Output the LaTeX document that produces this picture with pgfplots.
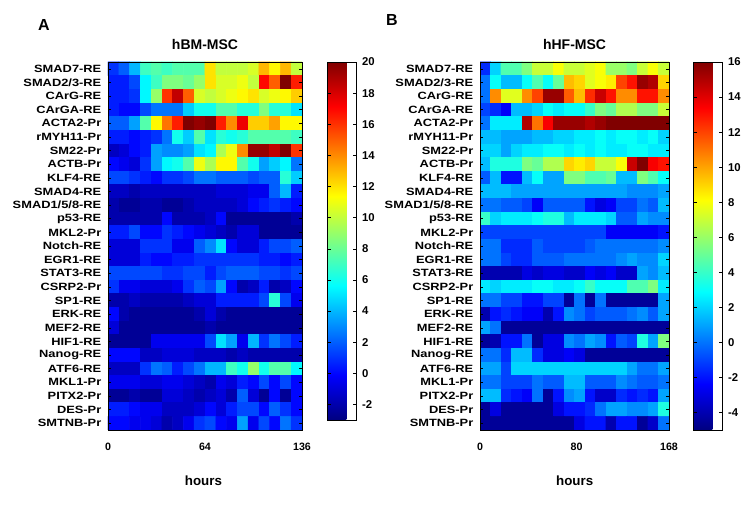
\documentclass[border=0pt]{standalone}
\usepackage{fontspec}
\setmainfont{Liberation Sans}
\newfontfamily\lab[FakeStretch=1.22]{Liberation Sans}
\usepackage{pgfplots}
\pgfplotsset{compat=1.18}

% 1 px of the reference = 0.75pt
\pgfplotsset{
  hm/.style={
    scale only axis, width=145.5pt, height=276pt,
    anchor=south west,
    xmin=-0.5, xmax=17.5, ymin=-0.5, ymax=26.5, y dir=reverse,
    enlargelimits=false, axis on top,
    colormap/jet,
    ytick={0,...,26},
    yticklabels={SMAD7-RE,SMAD2/3-RE,CArG-RE,CArGA-RE,ACTA2-Pr,rMYH11-Pr,SM22-Pr,ACTB-Pr,KLF4-RE,SMAD4-RE,SMAD1/5/8-RE,p53-RE,MKL2-Pr,Notch-RE,EGR1-RE,STAT3-RE,CSRP2-Pr,SP1-RE,ERK-RE,MEF2-RE,HIF1-RE,Nanog-RE,ATF6-RE,MKL1-Pr,PITX2-Pr,DES-Pr,SMTNB-Pr},
    yticklabel style={font=\lab\bfseries\fontsize{7.9}{8}\selectfont, xshift=-1.5pt},
    xticklabel style={font=\bfseries\fontsize{8}{8}\selectfont, yshift=-6pt},
    ytick pos=both, yticklabel pos=left,
    major tick length=2.5pt, tick align=inside,
    tick style={black, line width=0.4pt},
    xtick style={draw=none},
    axis line style={line width=0.5pt},
    colorbar,
    colorbar style={
      at={(parent axis.north east)}, anchor=north west,
      scale only axis, width=21.5pt,
      tick align=inside, major tick length=2.5pt,
      ytick pos=both, yticklabel pos=right,
      yticklabel style={font=\bfseries\fontsize{8.5}{9}\selectfont, xshift=1pt},
    },
  },
  cells/.style={matrix plot*, mesh/cols=18, point meta=explicit},
}

\begin{document}
\begin{tikzpicture}
\path[use as bounding box] (0,0) rectangle (562.5pt,378.75pt);

% ---------------- A: hBM-MSC ----------------
\begin{axis}[hm, at={(81pt,56.25pt)},
    point meta min=-3, point meta max=20,
    xtick={-0.5,8.5,17.5}, xticklabels={0,64,136},
    colorbar style={xshift=10.5pt, height=268.5pt,
      ytick={-2,0,...,20}, yticklabels={-2,0,2,4,6,8,10,12,14,16,18,20}}]
\addplot[cells] table[meta=c, row sep=\\] {
x y c\\
0 0 1\\ 1 0 2\\ 2 0 4\\ 3 0 7\\ 4 0 7.5\\ 5 0 7\\ 6 0 7.5\\ 7 0 7.5\\ 8 0 7.5\\ 9 0 12\\ 10 0 10\\ 11 0 10\\ 12 0 10\\ 13 0 10.5\\ 14 0 13\\ 15 0 11.5\\ 16 0 13\\ 17 0 10\\
0 1 0.5\\ 1 1 0.5\\ 2 1 1.5\\ 3 1 5.5\\ 4 1 7\\ 5 1 8.5\\ 6 1 8.5\\ 7 1 8\\ 8 1 9\\ 9 1 12\\ 10 1 10.5\\ 11 1 10.5\\ 12 1 11\\ 13 1 10\\ 14 1 17\\ 15 1 15\\ 16 1 20\\ 17 1 16.5\\
0 2 0.5\\ 1 2 0.5\\ 2 2 1\\ 3 2 5.5\\ 4 2 9\\ 5 2 16\\ 6 2 18.5\\ 7 2 15\\ 8 2 10.5\\ 9 2 10\\ 10 2 10.5\\ 11 2 11\\ 12 2 11.5\\ 13 2 12\\ 14 2 10.5\\ 15 2 11\\ 16 2 11.5\\ 17 2 12.5\\
0 3 0.5\\ 1 3 0\\ 2 3 0\\ 3 3 1.5\\ 4 3 2.5\\ 5 3 2.5\\ 6 3 2.5\\ 7 3 4.5\\ 8 3 6\\ 9 3 6\\ 10 3 7.5\\ 11 3 7.5\\ 12 3 6.5\\ 13 3 6.5\\ 14 3 8.5\\ 15 3 6.5\\ 16 3 6.5\\ 17 3 5\\
0 4 2\\ 1 4 2\\ 2 4 3.5\\ 3 4 7.5\\ 4 4 11.5\\ 5 4 14.5\\ 6 4 16.5\\ 7 4 20\\ 8 4 19.5\\ 9 4 20\\ 10 4 16.5\\ 11 4 14\\ 12 4 17.5\\ 13 4 12.5\\ 14 4 12.5\\ 15 4 13.5\\ 16 4 11.5\\ 17 4 11.5\\
0 5 0.5\\ 1 5 0.5\\ 2 5 0\\ 3 5 0.5\\ 4 5 1\\ 5 5 2.5\\ 6 5 6\\ 7 5 4.5\\ 8 5 7.5\\ 9 5 5\\ 10 5 6.5\\ 11 5 6\\ 12 5 6.5\\ 13 5 7.5\\ 14 5 7.5\\ 15 5 7.5\\ 16 5 7.5\\ 17 5 7\\
0 6 -1.5\\ 1 6 -1\\ 2 6 0\\ 3 6 0.5\\ 4 6 3.5\\ 5 6 3\\ 6 6 3\\ 7 6 3.5\\ 8 6 5\\ 9 6 5.5\\ 10 6 9.5\\ 11 6 11\\ 12 6 14\\ 13 6 19.5\\ 14 6 19.5\\ 15 6 18.5\\ 16 6 20\\ 17 6 16\\
0 7 0\\ 1 7 -0.5\\ 2 7 -1\\ 3 7 1\\ 4 7 3.5\\ 5 7 5.5\\ 6 7 6\\ 7 7 7.5\\ 8 7 11\\ 9 7 9.5\\ 10 7 11.5\\ 11 7 11.5\\ 12 7 7.5\\ 13 7 6\\ 14 7 3.5\\ 15 7 4.5\\ 16 7 5.5\\ 17 7 2.5\\
0 8 1.5\\ 1 8 1.5\\ 2 8 1\\ 3 8 0.5\\ 4 8 0\\ 5 8 1\\ 6 8 1\\ 7 8 1.5\\ 8 8 2.5\\ 9 8 2.5\\ 10 8 2\\ 11 8 2\\ 12 8 2\\ 13 8 1.5\\ 14 8 2\\ 15 8 2\\ 16 8 6.5\\ 17 8 4.5\\
0 9 -1.5\\ 1 9 -1.5\\ 2 9 -2\\ 3 9 -1.5\\ 4 9 -1.5\\ 5 9 -1.5\\ 6 9 -1.5\\ 7 9 -1.5\\ 8 9 -1.5\\ 9 9 -1.5\\ 10 9 -1\\ 11 9 -1\\ 12 9 -1\\ 13 9 -0.5\\ 14 9 -0.5\\ 15 9 2\\ 16 9 4\\ 17 9 0.5\\
0 10 -2\\ 1 10 -2.5\\ 2 10 -2.5\\ 3 10 -2\\ 4 10 -2\\ 5 10 -2.5\\ 6 10 -2.5\\ 7 10 -2\\ 8 10 -1.5\\ 9 10 -1.5\\ 10 10 -1.5\\ 11 10 -1.5\\ 12 10 -1\\ 13 10 0\\ 14 10 0.5\\ 15 10 1\\ 16 10 0.5\\ 17 10 0\\
0 11 -2\\ 1 11 -2\\ 2 11 -2\\ 3 11 -2\\ 4 11 -2\\ 5 11 0\\ 6 11 -2\\ 7 11 -2\\ 8 11 -2\\ 9 11 -1.5\\ 10 11 0\\ 11 11 -2.5\\ 12 11 -2.5\\ 13 11 -2.5\\ 14 11 -2.5\\ 15 11 -2.5\\ 16 11 -2.5\\ 17 11 -2\\
0 12 0.5\\ 1 12 0.5\\ 2 12 1.5\\ 3 12 0\\ 4 12 0\\ 5 12 1\\ 6 12 0.5\\ 7 12 0\\ 8 12 -0.5\\ 9 12 -1\\ 10 12 -1.5\\ 11 12 -2\\ 12 12 -1\\ 13 12 -1\\ 14 12 -2.5\\ 15 12 -2.5\\ 16 12 -2.5\\ 17 12 -2.5\\
0 13 -1\\ 1 13 -1\\ 2 13 -1\\ 3 13 1\\ 4 13 1\\ 5 13 1\\ 6 13 -0.5\\ 7 13 -0.5\\ 8 13 2\\ 9 13 3\\ 10 13 5\\ 11 13 0\\ 12 13 -1\\ 13 13 -1\\ 14 13 0.5\\ 15 13 1.5\\ 16 13 1.5\\ 17 13 2\\
0 14 -1\\ 1 14 -1\\ 2 14 -1\\ 3 14 0.5\\ 4 14 0\\ 5 14 0\\ 6 14 0.5\\ 7 14 0.5\\ 8 14 1\\ 9 14 1\\ 10 14 1\\ 11 14 1\\ 12 14 1\\ 13 14 1\\ 14 14 0.5\\ 15 14 0.5\\ 16 14 0\\ 17 14 0.5\\
0 15 1.5\\ 1 15 1.5\\ 2 15 1.5\\ 3 15 1.5\\ 4 15 1.5\\ 5 15 1\\ 6 15 1\\ 7 15 1.5\\ 8 15 1.5\\ 9 15 0.5\\ 10 15 1.5\\ 11 15 2\\ 12 15 2\\ 13 15 2\\ 14 15 1.5\\ 15 15 1.5\\ 16 15 1\\ 17 15 1.5\\
0 16 1\\ 1 16 -0.5\\ 2 16 -0.5\\ 3 16 -1\\ 4 16 -1\\ 5 16 -1\\ 6 16 -0.5\\ 7 16 1\\ 8 16 2\\ 9 16 1.5\\ 10 16 3.5\\ 11 16 0\\ 12 16 -2\\ 13 16 -1.5\\ 14 16 0.5\\ 15 16 -2\\ 16 16 -1.5\\ 17 16 0\\
0 17 -2\\ 1 17 -2\\ 2 17 -1.5\\ 3 17 -2\\ 4 17 -2\\ 5 17 -2\\ 6 17 -2\\ 7 17 -1.5\\ 8 17 -1\\ 9 17 -1\\ 10 17 0.5\\ 11 17 0.5\\ 12 17 0.5\\ 13 17 0.5\\ 14 17 1.5\\ 15 17 6.5\\ 16 17 1.5\\ 17 17 -0.5\\
0 18 0\\ 1 18 -2\\ 2 18 -2.5\\ 3 18 -2.5\\ 4 18 -2.5\\ 5 18 -2.5\\ 6 18 -2.5\\ 7 18 -2.5\\ 8 18 -2\\ 9 18 -1\\ 10 18 -2\\ 11 18 -2.5\\ 12 18 -2.5\\ 13 18 -2.5\\ 14 18 -2.5\\ 15 18 -2.5\\ 16 18 -2.5\\ 17 18 -2.5\\
0 19 -1\\ 1 19 -2.5\\ 2 19 -2.5\\ 3 19 -2.5\\ 4 19 -2.5\\ 5 19 -2.5\\ 6 19 -2.5\\ 7 19 -2.5\\ 8 19 -2.5\\ 9 19 -2\\ 10 19 -2.5\\ 11 19 -2.5\\ 12 19 -2.5\\ 13 19 -2.5\\ 14 19 -2.5\\ 15 19 -2.5\\ 16 19 -2.5\\ 17 19 -2.5\\
0 20 -2.5\\ 1 20 -2.5\\ 2 20 -2.5\\ 3 20 -2.5\\ 4 20 -0.5\\ 5 20 -0.5\\ 6 20 -0.5\\ 7 20 -0.5\\ 8 20 -0.5\\ 9 20 1.5\\ 10 20 5\\ 11 20 3.5\\ 12 20 -0.5\\ 13 20 4\\ 14 20 1\\ 15 20 2.5\\ 16 20 1.5\\ 17 20 0.5\\
0 21 0\\ 1 21 0\\ 2 21 0\\ 3 21 -1.5\\ 4 21 -1.5\\ 5 21 -1\\ 6 21 -1\\ 7 21 -1\\ 8 21 -1.5\\ 9 21 -1.5\\ 10 21 -1.5\\ 11 21 -2\\ 12 21 -1.5\\ 13 21 -2\\ 14 21 -2\\ 15 21 -2\\ 16 21 -2\\ 17 21 -2\\
0 22 -1.5\\ 1 22 -1.5\\ 2 22 -1.5\\ 3 22 1\\ 4 22 2.5\\ 5 22 2\\ 6 22 0.5\\ 7 22 1.5\\ 8 22 2.5\\ 9 22 4\\ 10 22 4\\ 11 22 7\\ 12 22 6\\ 13 22 9\\ 14 22 6\\ 15 22 7.5\\ 16 22 7.5\\ 17 22 5.5\\
0 23 -0.5\\ 1 23 -0.5\\ 2 23 -0.5\\ 3 23 -1\\ 4 23 -1\\ 5 23 -0.5\\ 6 23 -0.5\\ 7 23 -1\\ 8 23 -1.5\\ 9 23 -2\\ 10 23 -0.5\\ 11 23 -1\\ 12 23 0.5\\ 13 23 0\\ 14 23 1.5\\ 15 23 0\\ 16 23 1.5\\ 17 23 0\\
0 24 -2.5\\ 1 24 -2.5\\ 2 24 -2\\ 3 24 -2.5\\ 4 24 -2.5\\ 5 24 -1\\ 6 24 -1\\ 7 24 -1.5\\ 8 24 -2\\ 9 24 -1.5\\ 10 24 -1\\ 11 24 -2\\ 12 24 2\\ 13 24 -1\\ 14 24 -2.5\\ 15 24 0\\ 16 24 -2.5\\ 17 24 0\\
0 25 0.5\\ 1 25 0.5\\ 2 25 0\\ 3 25 -0.5\\ 4 25 -0.5\\ 5 25 -1.5\\ 6 25 -1.5\\ 7 25 -1.5\\ 8 25 -1\\ 9 25 0\\ 10 25 -1\\ 11 25 0.5\\ 12 25 1.5\\ 13 25 1.5\\ 14 25 0\\ 15 25 2\\ 16 25 1\\ 17 25 0\\
0 26 0\\ 1 26 0\\ 2 26 -0.5\\ 3 26 -0.5\\ 4 26 -1\\ 5 26 -2\\ 6 26 -1.5\\ 7 26 -0.5\\ 8 26 1\\ 9 26 1.5\\ 10 26 0\\ 11 26 -0.5\\ 12 26 3.5\\ 13 26 -0.5\\ 14 26 1.5\\ 15 26 0\\ 16 26 2.5\\ 17 26 1\\
};
\end{axis}

% ---------------- B: hHF-MSC ----------------
\begin{axis}[hm, at={(360pt,56.25pt)}, width=141.75pt,
    point meta min=-5, point meta max=16,
    xtick={-0.5,8.7,17.5}, xticklabels={0,80,168},
    colorbar style={xshift=9.75pt, height=276pt,
      ytick={-4,-2,...,16}, yticklabels={-4,-2,0,2,4,6,8,10,12,14,16}}]
\addplot[cells] table[meta=c, row sep=\\] {
x y c\\
0 0 -1.5\\ 1 0 2\\ 2 0 4.5\\ 3 0 4.5\\ 4 0 5.5\\ 5 0 7\\ 6 0 7\\ 7 0 8\\ 8 0 7\\ 9 0 7\\ 10 0 7.5\\ 11 0 8\\ 12 0 6\\ 13 0 6\\ 14 0 5.5\\ 15 0 7\\ 16 0 8\\ 17 0 7\\
0 1 0\\ 1 1 3\\ 2 1 1.5\\ 3 1 1.5\\ 4 1 3\\ 5 1 4.5\\ 6 1 3\\ 7 1 5\\ 8 1 9.5\\ 9 1 9\\ 10 1 7.5\\ 11 1 8\\ 12 1 8.5\\ 13 1 12\\ 14 1 13\\ 15 1 15.5\\ 16 1 15\\ 17 1 9\\
0 2 0\\ 1 2 10.5\\ 2 2 7.5\\ 3 2 7.5\\ 4 2 10.5\\ 5 2 12\\ 6 2 15.5\\ 7 2 15.5\\ 8 2 11.5\\ 9 2 9.5\\ 10 2 12.5\\ 11 2 14.5\\ 12 2 13\\ 13 2 10.5\\ 14 2 10.5\\ 15 2 13\\ 16 2 13\\ 17 2 10.5\\
0 3 -1\\ 1 3 -1.5\\ 2 3 -2.5\\ 3 3 1.5\\ 4 3 1.5\\ 5 3 2\\ 6 3 3\\ 7 3 2.5\\ 8 3 3\\ 9 3 3\\ 10 3 4\\ 11 3 5.5\\ 12 3 5\\ 13 3 6.5\\ 14 3 6.5\\ 15 3 5.5\\ 16 3 5.5\\ 17 3 7\\
0 4 0\\ 1 4 2.5\\ 2 4 2.5\\ 3 4 2.5\\ 4 4 15\\ 5 4 11\\ 6 4 13.5\\ 7 4 15.5\\ 8 4 15.5\\ 9 4 15.5\\ 10 4 15\\ 11 4 15.5\\ 12 4 16\\ 13 4 16\\ 14 4 16\\ 15 4 16\\ 16 4 16\\ 17 4 16\\
0 5 1.5\\ 1 5 1.5\\ 2 5 1\\ 3 5 1\\ 4 5 1\\ 5 5 1.5\\ 6 5 1.5\\ 7 5 2\\ 8 5 2\\ 9 5 2.5\\ 10 5 2.5\\ 11 5 3\\ 12 5 2.5\\ 13 5 3\\ 14 5 3\\ 15 5 2.5\\ 16 5 3\\ 17 5 2\\
0 6 2\\ 1 6 2\\ 2 6 1\\ 3 6 2\\ 4 6 2.5\\ 5 6 2.5\\ 6 6 3\\ 7 6 3\\ 8 6 2.5\\ 9 6 3\\ 10 6 2.5\\ 11 6 3\\ 12 6 2.5\\ 13 6 2.5\\ 14 6 3\\ 15 6 3\\ 16 6 2.5\\ 17 6 2.5\\
0 7 1.5\\ 1 7 3.5\\ 2 7 3.5\\ 3 7 3.5\\ 4 7 5.5\\ 5 7 5\\ 6 7 6.5\\ 7 7 6.5\\ 8 7 9\\ 9 7 8.5\\ 10 7 9\\ 11 7 7\\ 12 7 7\\ 13 7 8\\ 14 7 14.5\\ 15 7 16\\ 16 7 13.5\\ 17 7 13\\
0 8 -0.5\\ 1 8 1.5\\ 2 8 -2\\ 3 8 -2\\ 4 8 1.5\\ 5 8 3\\ 6 8 1\\ 7 8 1\\ 8 8 5.5\\ 9 8 5.5\\ 10 8 4.5\\ 11 8 4.5\\ 12 8 5\\ 13 8 1.5\\ 14 8 1.5\\ 15 8 5.5\\ 16 8 4.5\\ 17 8 3\\
0 9 1.5\\ 1 9 1.5\\ 2 9 1.5\\ 3 9 1\\ 4 9 1\\ 5 9 1\\ 6 9 1\\ 7 9 1\\ 8 9 1\\ 9 9 1\\ 10 9 1\\ 11 9 1\\ 12 9 1\\ 13 9 1\\ 14 9 0.5\\ 15 9 0.5\\ 16 9 0.5\\ 17 9 1\\
0 10 0\\ 1 10 0\\ 2 10 -0.5\\ 3 10 -0.5\\ 4 10 -1\\ 5 10 -2.5\\ 6 10 -0.5\\ 7 10 -0.5\\ 8 10 -0.5\\ 9 10 -0.5\\ 10 10 -2\\ 11 10 -3\\ 12 10 -2.5\\ 13 10 -1\\ 14 10 -1\\ 15 10 0\\ 16 10 -0.5\\ 17 10 1.5\\
0 11 4\\ 1 11 2\\ 2 11 2.5\\ 3 11 2.5\\ 4 11 2.5\\ 5 11 3\\ 6 11 3.5\\ 7 11 3.5\\ 8 11 1.5\\ 9 11 2.5\\ 10 11 2.5\\ 11 11 2.5\\ 12 11 2\\ 13 11 -0.5\\ 14 11 -0.5\\ 15 11 1\\ 16 11 0.5\\ 17 11 0.5\\
0 12 -1\\ 1 12 -1\\ 2 12 -1\\ 3 12 -1\\ 4 12 -1\\ 5 12 -1\\ 6 12 -1\\ 7 12 -1\\ 8 12 -1\\ 9 12 -1\\ 10 12 -1\\ 11 12 -1\\ 12 12 -2.5\\ 13 12 -2.5\\ 14 12 -2.5\\ 15 12 -2.5\\ 16 12 -2.5\\ 17 12 -2\\
0 13 0\\ 1 13 0\\ 2 13 -1.5\\ 3 13 -1.5\\ 4 13 -1.5\\ 5 13 -0.5\\ 6 13 -1\\ 7 13 -1\\ 8 13 -1\\ 9 13 -1\\ 10 13 -0.5\\ 11 13 0\\ 12 13 0\\ 13 13 0\\ 14 13 0\\ 15 13 0\\ 16 13 0\\ 17 13 0.5\\
0 14 0\\ 1 14 0\\ 2 14 -1\\ 3 14 -1.5\\ 4 14 -1.5\\ 5 14 -0.5\\ 6 14 -0.5\\ 7 14 -0.5\\ 8 14 0\\ 9 14 0\\ 10 14 0\\ 11 14 0\\ 12 14 0\\ 13 14 0.5\\ 14 14 1\\ 15 14 0.5\\ 16 14 0.5\\ 17 14 2\\
0 15 -4\\ 1 15 -4\\ 2 15 -4\\ 3 15 -4\\ 4 15 -3\\ 5 15 -3.5\\ 6 15 -3\\ 7 15 -3\\ 8 15 -3.5\\ 9 15 -3.5\\ 10 15 -2.5\\ 11 15 -3\\ 12 15 -2.5\\ 13 15 -3.5\\ 14 15 -3.5\\ 15 15 1\\ 16 15 0.5\\ 17 15 1.5\\
0 16 2.5\\ 1 16 2\\ 2 16 2.5\\ 3 16 2.5\\ 4 16 2.5\\ 5 16 3\\ 6 16 3\\ 7 16 2.5\\ 8 16 2.5\\ 9 16 3\\ 10 16 4\\ 11 16 3\\ 12 16 3\\ 13 16 3\\ 14 16 4.5\\ 15 16 4.5\\ 16 16 5.5\\ 17 16 2.5\\
0 17 0\\ 1 17 0\\ 2 17 -1\\ 3 17 -1\\ 4 17 -2\\ 5 17 -2\\ 6 17 -1\\ 7 17 -1\\ 8 17 -4.5\\ 9 17 0\\ 10 17 -4.5\\ 11 17 0\\ 12 17 -4.5\\ 13 17 -4.5\\ 14 17 -4.5\\ 15 17 -4.5\\ 16 17 -4.5\\ 17 17 1\\
0 18 -4\\ 1 18 -2\\ 2 18 -1.5\\ 3 18 -2\\ 4 18 -2.5\\ 5 18 -2.5\\ 6 18 -4\\ 7 18 -2\\ 8 18 0.5\\ 9 18 0\\ 10 18 -1\\ 11 18 -0.5\\ 12 18 -0.5\\ 13 18 -0.5\\ 14 18 0\\ 15 18 0.5\\ 16 18 -0.5\\ 17 18 1\\
0 19 1\\ 1 19 0\\ 2 19 -4.5\\ 3 19 -4.5\\ 4 19 -4.5\\ 5 19 -4.5\\ 6 19 -4.5\\ 7 19 -4.5\\ 8 19 -4.5\\ 9 19 -4.5\\ 10 19 -4.5\\ 11 19 -4.5\\ 12 19 -4.5\\ 13 19 -4.5\\ 14 19 -4.5\\ 15 19 -4.5\\ 16 19 -4.5\\ 17 19 -4.5\\
0 20 -4.5\\ 1 20 -4\\ 2 20 -2\\ 3 20 -2\\ 4 20 0\\ 5 20 -4.5\\ 6 20 -3\\ 7 20 -3\\ 8 20 0.5\\ 9 20 0\\ 10 20 1\\ 11 20 0.5\\ 12 20 -2\\ 13 20 -0.5\\ 14 20 -1\\ 15 20 3.5\\ 16 20 1\\ 17 20 5.5\\
0 21 0\\ 1 21 0\\ 2 21 -1.5\\ 3 21 1.5\\ 4 21 1.5\\ 5 21 -1.5\\ 6 21 -3\\ 7 21 -3\\ 8 21 -2.5\\ 9 21 -3\\ 10 21 -4.5\\ 11 21 -4.5\\ 12 21 -4.5\\ 13 21 -4.5\\ 14 21 -4.5\\ 15 21 -4.5\\ 16 21 -4.5\\ 17 21 -4.5\\
0 22 1\\ 1 22 1\\ 2 22 -1\\ 3 22 2\\ 4 22 2\\ 5 22 2\\ 6 22 2\\ 7 22 2\\ 8 22 2\\ 9 22 2\\ 10 22 2\\ 11 22 2\\ 12 22 2\\ 13 22 2\\ 14 22 1\\ 15 22 0\\ 16 22 0\\ 17 22 1\\
0 23 0\\ 1 23 0\\ 2 23 -1\\ 3 23 -1\\ 4 23 -1\\ 5 23 0\\ 6 23 -0.5\\ 7 23 -0.5\\ 8 23 1.5\\ 9 23 1.5\\ 10 23 -0.5\\ 11 23 -0.5\\ 12 23 -0.5\\ 13 23 0.5\\ 14 23 0\\ 15 23 -0.5\\ 16 23 -0.5\\ 17 23 0\\
0 24 1.5\\ 1 24 1.5\\ 2 24 -1.5\\ 3 24 -2\\ 4 24 -2.5\\ 5 24 0\\ 6 24 -4.5\\ 7 24 -2\\ 8 24 0.5\\ 9 24 1\\ 10 24 -2\\ 11 24 -3.5\\ 12 24 -3.5\\ 13 24 -1.5\\ 14 24 -2\\ 15 24 -1.5\\ 16 24 -2\\ 17 24 1\\
0 25 -4.5\\ 1 25 -3\\ 2 25 -4.5\\ 3 25 -4.5\\ 4 25 -4.5\\ 5 25 -4.5\\ 6 25 -4.5\\ 7 25 -3\\ 8 25 -2\\ 9 25 -2\\ 10 25 -1.5\\ 11 25 0\\ 12 25 1\\ 13 25 1\\ 14 25 0.5\\ 15 25 0.5\\ 16 25 1\\ 17 25 3.5\\
0 26 -4.5\\ 1 26 -4.5\\ 2 26 -4.5\\ 3 26 -4.5\\ 4 26 -4.5\\ 5 26 -4.5\\ 6 26 -4.5\\ 7 26 -4.5\\ 8 26 -4.5\\ 9 26 -3\\ 10 26 -2\\ 11 26 -2\\ 12 26 -4\\ 13 26 -2\\ 14 26 -2\\ 15 26 -4.5\\ 16 26 -3.5\\ 17 26 0\\
};
\end{axis}

% panel letters, titles, axis names
\node[font=\bfseries\fontsize{12}{12}\selectfont] at (33pt,360pt) {A};
\node[font=\bfseries\fontsize{12}{12}\selectfont] at (294pt,363.75pt) {B};
\node[font=\bfseries\fontsize{10.5}{11}\selectfont] at (153.75pt,345pt) {hBM-MSC};
\node[font=\bfseries\fontsize{10.5}{11}\selectfont] at (430.9pt,345pt) {hHF-MSC};
\node[font=\bfseries\fontsize{10}{10}\selectfont] at (152.6pt,18.5pt) {hours};
\node[font=\bfseries\fontsize{10}{10}\selectfont] at (431pt,18.5pt) {hours};
\end{tikzpicture}
\end{document}
